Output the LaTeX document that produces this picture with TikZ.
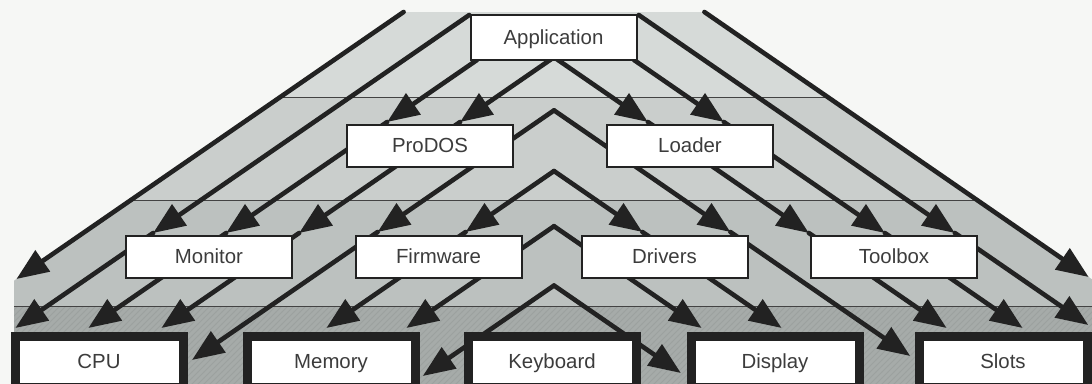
\documentclass[tikz,border=0pt]{standalone}
\usepackage{fontspec}
\setmainfont{Liberation Sans}
\usetikzlibrary{arrows.meta,patterns}

\definecolor{paper}{HTML}{F6F7F5}
\definecolor{bandA}{HTML}{D6DAD8}
\definecolor{bandB}{HTML}{CACECC}
\definecolor{bandC}{HTML}{BCC1BF}
\definecolor{bandD}{HTML}{A6ABA9}
\definecolor{hatch}{HTML}{9CA19F}
\definecolor{ink}{HTML}{222222}
\definecolor{label}{HTML}{3C3C3C}

\newcommand{\wireL}[3]{%
	\foreach \t [remember=\t as \s (initially #2)] in {#3}
		\draw[wire] ({554+(#1)-1.45*\s},\s) -- ({554+(#1)-1.45*\t},\t);}
\newcommand{\wireR}[3]{%
	\foreach \t [remember=\t as \s (initially #2)] in {#3}
		\draw[wire] ({554+(#1)+1.45*\s},\s) -- ({554+(#1)+1.45*\t},\t);}

\begin{document}
\begin{tikzpicture}[
	x=0.5pt, y=-0.5pt,
	wire/.style={draw=ink, line width=2.3pt, line cap=round,
	-{Triangle[length=16pt,width=12.5pt]}},
	rule/.style={draw=ink!85, line width=0.5pt},
	box/.style={draw=ink, line width=1pt, fill=white, inner sep=0pt,
	minimum width=83pt, minimum height=21pt, text=label,
	text height=7.3pt, text depth=0.3pt,
	font=\fontsize{10.2}{12}\selectfont},
	base/.style={box, line width=4.5pt, minimum width=84pt, minimum height=25.5pt}
]
\useasboundingbox (0,0) rectangle (1092,384);
\clip (0,0) rectangle (1092,384);
\fill[paper] (0,0) rectangle (1092,384);
\begin{scope}
	\clip (404,12) -- (704,12) -- (1092,279.3) -- (1092,384) -- (14,384) -- (14,280.7) -- cycle;
	\fill[bandA] (0,12) rectangle (1092,98);
	\fill[bandB] (0,98) rectangle (1092,201);
	\fill[bandC] (0,201) rectangle (1092,307);
	\fill[bandD] (0,307) rectangle (1092,384);
	\fill[pattern=north east lines, pattern color=hatch] (0,307) rectangle (1092,384);
	\foreach \y in {98,201,307}
		\draw[rule] (0,\y) -- (1092,\y);
\end{scope}

\wireL{-133}{12}{279}
\wireL{-63}{15}{233,328}
\wireL{10}{60}{122,233,328}
\wireL{83}{57.24}{122,233,328}
\wireL{160}{110.34}{232,360}
\wireL{248}{171.03}{232,328}
\wireL{328}{226.2}{328}
\wireL{414}{285.5}{376}

\wireR{133}{12}{277}
\wireR{63}{15}{233,325}
\wireR{-7}{60}{122,233,328}
\wireR{-83}{57.24}{122,233,328}
\wireR{-160}{110.34}{232,356}
\wireR{-248}{171.03}{232,328}
\wireR{-328}{226.2}{328}
\wireR{-414}{285.5}{373}

\node[box, minimum height=22.5pt] (app) at (553.5,37.5) {Application};
\node[box] (prodos) at (430,146) {ProDOS};
\node[box] (loader) at (690,146) {Loader};
\node[box] (monitor) at (209,257) {Monitor};
\node[box] (firmware) at (438.5,257) {Firmware};
\node[box] (drivers) at (664.5,257) {Drivers};
\node[box] (toolbox) at (894,257) {Toolbox};
\node[base] (cpu) at (99,362) {CPU};
\node[base] (memory) at (331,362) {Memory};
\node[base] (keyboard) at (552,362) {Keyboard};
\node[base] (display) at (775,362) {Display};
\node[base] (slots) at (1003,362) {Slots};
\end{tikzpicture}
\end{document}
